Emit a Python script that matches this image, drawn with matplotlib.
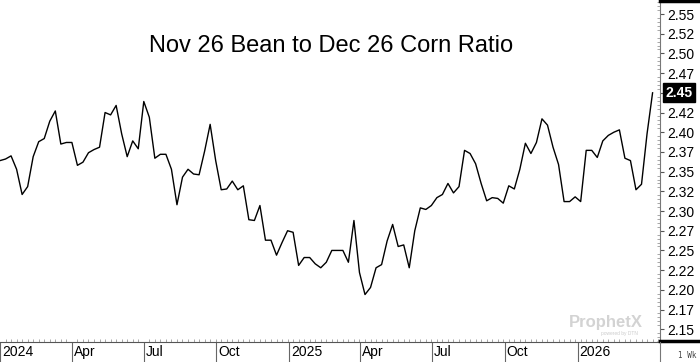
"""
Ratio semanal soja nov-26 / maíz dic-26 - estilo ProphetX
"""

import matplotlib
matplotlib.use('Agg')
import matplotlib.pyplot as plt
import matplotlib.dates as mdates
import matplotlib.transforms as mtransforms
from matplotlib.lines import Line2D
from matplotlib.ticker import MultipleLocator
import pandas as pd

plt.rcParams['font.family'] = ['Liberation Sans', 'DejaVu Sans']

# DATOS
TITULO = "Nov 26 Bean to Dec 26 Corn Ratio"
INICIO = '2024-01-01'

ratio = [
    2.364, 2.366, 2.370, 2.353, 2.321, 2.331, 2.369, 2.388, 2.392, 2.414,
    2.427, 2.385, 2.387, 2.387, 2.358, 2.362, 2.374, 2.378, 2.381, 2.425,
    2.422, 2.434, 2.398, 2.369, 2.389, 2.379, 2.439, 2.419, 2.367, 2.372,
    2.372, 2.353, 2.308, 2.343, 2.353, 2.347, 2.346, 2.376, 2.410, 2.364,
    2.327, 2.328, 2.338, 2.327, 2.332, 2.289, 2.288, 2.307, 2.263, 2.263,
    2.244, 2.260, 2.275, 2.273, 2.231, 2.241, 2.241, 2.233, 2.228, 2.235,
    2.250, 2.250, 2.250, 2.235, 2.288, 2.222, 2.194, 2.203, 2.228, 2.232,
    2.262, 2.283, 2.255, 2.257, 2.228, 2.275, 2.304, 2.302, 2.307, 2.317,
    2.321, 2.335, 2.323, 2.331, 2.377, 2.373, 2.360, 2.335, 2.313, 2.317,
    2.316, 2.310, 2.332, 2.328, 2.353, 2.386, 2.373, 2.387, 2.417, 2.409,
    2.381, 2.359, 2.312, 2.312, 2.318, 2.312, 2.377, 2.377, 2.368, 2.389,
    2.396, 2.400, 2.403, 2.367, 2.364, 2.327, 2.334, 2.398, 2.450,
]
ULTIMO = '2.45'

y_ticks = [2.15, 2.175, 2.20, 2.225, 2.25, 2.275, 2.30, 2.325, 2.35,
           2.375, 2.40, 2.425, 2.45, 2.475, 2.50, 2.525, 2.55]
y_labels = ['2.15', '2.17', '2.20', '2.22', '2.25', '2.27', '2.30', '2.32',
            '2.35', '2.37', '2.40', '2.42', '2.45', '2.47', '2.50', '2.52',
            '2.55']

x_ticks = ['2024-01-01', '2024-04-01', '2024-07-01', '2024-10-01',
           '2025-01-01', '2025-04-01', '2025-07-01', '2025-10-01',
           '2026-01-01']
x_labels = ['2024', 'Apr', 'Jul', 'Oct', '2025', 'Apr', 'Jul', 'Oct', '2026']

fechas = pd.date_range(INICIO, periods=len(ratio), freq='7D')

# FIGURA
W, H = 700, 362
fig = plt.figure(figsize=(W / 100, H / 100), dpi=100, facecolor='white')
ax = fig.add_axes([0, 20 / H, 660 / W, 342 / H])

ax.plot(fechas, ratio, color='black', linewidth=1.0)

x0 = mdates.date2num(pd.Timestamp(INICIO))
ax.set_xlim(x0, x0 + 835.4)
ax.set_ylim(2.1338, 2.5678)

# EJE Y (derecha) - la etiqueta del último valor va en su caja negra
ax.yaxis.tick_right()
ax.set_yticks(y_ticks)
ax.set_yticklabels(['' if t == ULTIMO else t for t in y_labels])
ax.yaxis.set_minor_locator(MultipleLocator(0.005))
ax.tick_params(axis='y', which='major', direction='out', length=3,
               width=0.8, color='#555555', pad=2, labelsize=10)
ax.tick_params(axis='y', which='minor', direction='in', length=2.5,
               width=0.6, color='#999999')

# EJE X (fechas)
ax.set_xticks(mdates.date2num(pd.to_datetime(x_ticks)))
ax.set_xticklabels(x_labels)
ax.xaxis.set_minor_locator(mdates.WeekdayLocator(byweekday=mdates.MO))
ax.tick_params(axis='x', which='major', direction='out', length=14.4,
               width=0.8, color='#666666', pad=-12, labelsize=10)
ax.tick_params(axis='x', which='minor', direction='in', length=2.5,
               width=0.6, color='#999999')
desplaza = mtransforms.ScaledTranslation(2 / 100, 0, fig.dpi_scale_trans)
for lbl in ax.get_xticklabels():
    lbl.set_horizontalalignment('left')
    lbl.set_transform(lbl.get_transform() + desplaza)

for lado in ['left', 'top']:
    ax.spines[lado].set_visible(False)
ax.spines['right'].set_color('#777777')
ax.spines['right'].set_linewidth(0.8)
ax.spines['bottom'].set_color('#555555')
ax.spines['bottom'].set_linewidth(0.8)

# TÍTULO
fig.text(331 / W, 1 - 46 / H, TITULO, ha='center', va='center', fontsize=17)

# ÚLTIMO VALOR
trans = mtransforms.blended_transform_factory(ax.transAxes, ax.transData)
ax.text(1.0 + 5 / 660, float(ULTIMO), ULTIMO, transform=trans,
        ha='left', va='center', color='white', fontsize=10,
        fontweight='bold', clip_on=False,
        bbox=dict(boxstyle='square,pad=0.18', fc='black', ec='black'))

# COLUMNA DERECHA
fig.add_artist(Line2D([660 / W, 1], [1 - 1 / H] * 2, lw=2.5, color='black'))
fig.add_artist(Line2D([660 / W, 1], [21 / H] * 2, lw=2.5, color='black'))
fig.add_artist(Line2D([660 / W] * 2, [0, 20 / H], lw=0.8, color='#777777'))
fig.text(678 / W, 1 - 356 / H, '1 Wk', fontsize=5.5, color='#444444',
         family='DejaVu Sans Mono', ha='left', va='center')

# MARCA DE AGUA
fig.text(606 / W, 1 - 322 / H, 'ProphetX', fontsize=12, fontweight='bold',
         color='#d3d3d3', ha='center', va='center')
fig.text(638 / W, 1 - 334 / H, 'powered by DTN', fontsize=3.5,
         color='#cccccc', ha='right', va='center')

fig.savefig('out.png', dpi=100, facecolor='white')
plt.close(fig)
